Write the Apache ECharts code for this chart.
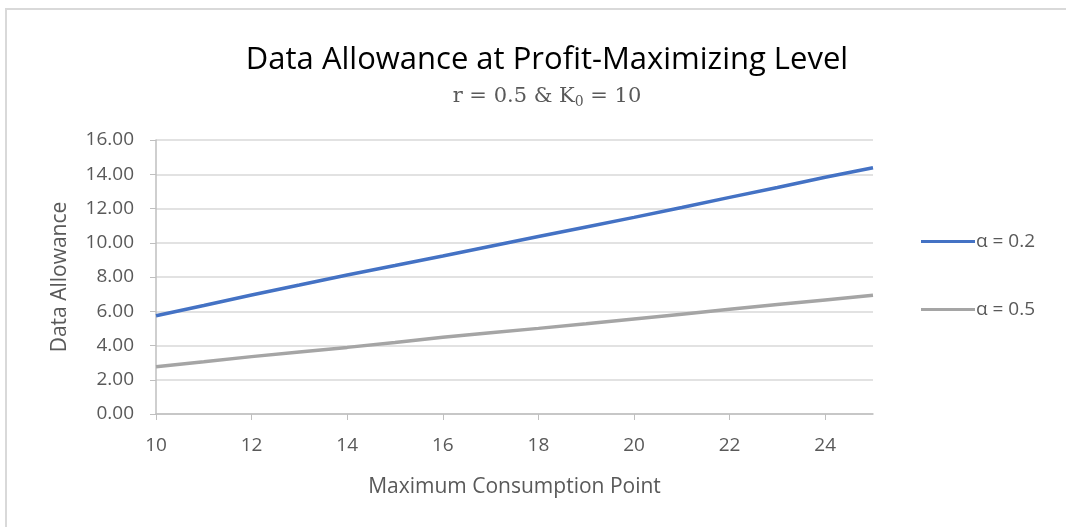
<!DOCTYPE html>
<html>
<head>
<meta charset="utf-8">
<script src="https://cdn.jsdelivr.net/npm/echarts@6/dist/echarts.min.js"></script>
<style>
  html, body { margin: 0; padding: 0; background: #fff; overflow: hidden; }
  #chart { width: 1066px; height: 527px; }
  #frame { position: absolute; left: 5px; top: 8px; width: 1070px; height: 540px; border: 2px solid #d9d9d9; box-sizing: border-box; pointer-events: none; }
</style>
</head>
<body>
<div id="chart"></div>
<div id="frame"></div>
<script>
// x categories (Maximum Consumption Point)
var xData = ["10", "11", "12", "13", "14", "15", "16", "17", "18", "19", "20", "21", "22", "23", "24", "25"];
// alpha = 0.2
var alpha02 = [5.74, 6.34, 6.95, 7.53, 8.12, 8.67, 9.23, 9.80, 10.36, 10.92, 11.48, 12.06, 12.65, 13.23, 13.82, 14.38];
// alpha = 0.5
var alpha05 = [2.76, 3.05, 3.35, 3.62, 3.89, 4.18, 4.48, 4.74, 5.00, 5.27, 5.55, 5.83, 6.11, 6.39, 6.66, 6.93];
var seriesNames = ["α = 0.2", "α = 0.5"];

var chart = echarts.init(document.getElementById("chart"));
var labelColor = "#595959";
var font = "Open Sans";

var option = {
  animation: false,
  title: {
    text: "Data Allowance at Profit-Maximizing Level",
    subtext: "r = 0.5 & K{sub|0} = 10",
    left: 542,
    textAlign: "center",
    top: 40,
    itemGap: 9,
    textStyle: {
      fontFamily: font,
      fontSize: 31,
      fontWeight: "normal",
      color: "#000"
    },
    subtextStyle: {
      fontFamily: "DejaVu Serif",
      fontSize: 21,
      color: labelColor,
      rich: {
        sub: { fontFamily: "DejaVu Serif", fontSize: 14, color: labelColor, padding: [10, 0, 0, 0] }
      }
    }
  },
  legend: {
    orient: "vertical",
    left: 916,
    top: 227,
    itemGap: 49,
    itemWidth: 54,
    itemHeight: 3,
    icon: "rect",
    textStyle: { fontFamily: font, fontSize: 19, color: labelColor, padding: [0, 0, 0, -4] },
    data: seriesNames
  },
  grid: {
    left: 156,
    right: 193,
    top: 140,
    bottom: 113
  },
  xAxis: {
    type: "category",
    boundaryGap: false,
    data: xData,
    name: "Maximum Consumption Point",
    nameLocation: "middle",
    nameGap: 63,
    nameTextStyle: { fontFamily: font, fontSize: 21, color: labelColor },
    axisLine: { lineStyle: { color: "#bfbfbf", width: 1.5 } },
    axisTick: { show: true, interval: 1, length: 6, lineStyle: { color: "#bfbfbf" } },
    axisLabel: { interval: 1, margin: 22, fontFamily: font, fontSize: 19, color: labelColor },
    splitLine: { show: false }
  },
  yAxis: {
    type: "value",
    min: 0,
    max: 16,
    interval: 2,
    name: "Data Allowance",
    nameLocation: "middle",
    nameGap: 85,
    nameTextStyle: { fontFamily: font, fontSize: 21, color: labelColor },
    axisLine: { show: true, lineStyle: { color: "#bfbfbf", width: 1.5 } },
    axisTick: { show: true, length: 6, lineStyle: { color: "#bfbfbf" } },
    axisLabel: {
      margin: 22,
      fontFamily: font,
      fontSize: 19,
      color: labelColor,
      formatter: function (v) { return v.toFixed(2); }
    },
    splitLine: { lineStyle: { color: "#d9d9d9", width: 1.5 } }
  },
  series: [
    {
      name: seriesNames[0],
      type: "line",
      data: alpha02,
      showSymbol: false,
      lineStyle: { color: "#4472C4", width: 3.5 },
      itemStyle: { color: "#4472C4" }
    },
    {
      name: seriesNames[1],
      type: "line",
      data: alpha05,
      showSymbol: false,
      lineStyle: { color: "#A5A5A5", width: 3.5 },
      itemStyle: { color: "#A5A5A5" }
    }
  ]
};

chart.setOption(option);
</script>
</body>
</html>
